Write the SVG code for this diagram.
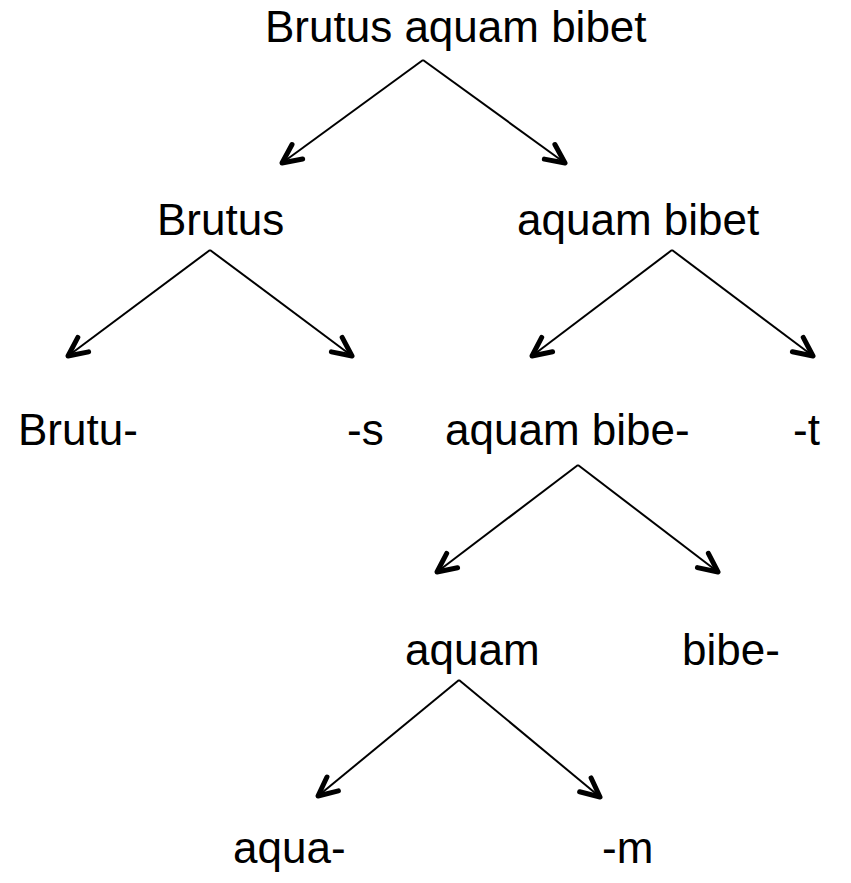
<svg xmlns="http://www.w3.org/2000/svg" width="851" height="883" viewBox="0 0 851 883">
  <style>
    .lbl { font-family: "Liberation Sans", Arial, sans-serif; font-size: 44px; fill: #000; }
    .edge { stroke: #000; stroke-width: 2; fill: none; marker-end: url(#head); }
  </style>
  <defs>
    <!-- open V arrowhead, drawn heavier than the shaft -->
    <marker id="head" markerUnits="userSpaceOnUse" viewBox="-24 -14 30 28" refX="0" refY="0" markerWidth="30" markerHeight="28" orient="auto">
      <path d="M -19 -9 L 0 0 L -19 9" fill="none" stroke="#000" stroke-width="5" stroke-linecap="round" stroke-linejoin="round"/>
    </marker>
  </defs>
  <rect width="851" height="883" fill="#fff"/>

  <g id="connectors">
    <line class="edge" x1="423" y1="60" x2="282" y2="163"/>
    <line class="edge" x1="423" y1="60" x2="565" y2="163"/>
    <line class="edge" x1="210" y1="250" x2="68" y2="356"/>
    <line class="edge" x1="210" y1="250" x2="352" y2="356"/>
    <line class="edge" x1="672" y1="250" x2="532" y2="356"/>
    <line class="edge" x1="672" y1="250" x2="813" y2="356"/>
    <line class="edge" x1="578" y1="465" x2="437" y2="572"/>
    <line class="edge" x1="578" y1="465" x2="718" y2="572"/>
    <line class="edge" x1="459" y1="680" x2="318" y2="796"/>
    <line class="edge" x1="459" y1="680" x2="600" y2="797"/>
  </g>

  <g id="n-root"><text class="lbl" x="265" y="42">Brutus aquam bibet</text></g>
  <g id="n-brutus"><text class="lbl" x="157" y="235">Brutus</text></g>
  <g id="n-aquam-bibet"><text class="lbl" x="517" y="235">aquam bibet</text></g>
  <g id="n-brutu"><text class="lbl" x="18" y="445">Brutu-</text></g>
  <g id="n-s"><text class="lbl" x="347" y="445">-s</text></g>
  <g id="n-aquam-bibe"><text class="lbl" x="445" y="445">aquam bibe-</text></g>
  <g id="n-t"><text class="lbl" x="793" y="445">-t</text></g>
  <g id="n-aquam"><text class="lbl" x="405" y="665">aquam</text></g>
  <g id="n-bibe"><text class="lbl" x="682" y="665">bibe-</text></g>
  <g id="n-aqua"><text class="lbl" x="233" y="863">aqua-</text></g>
  <g id="n-m"><text class="lbl" x="602" y="863">-m</text></g>
</svg>
